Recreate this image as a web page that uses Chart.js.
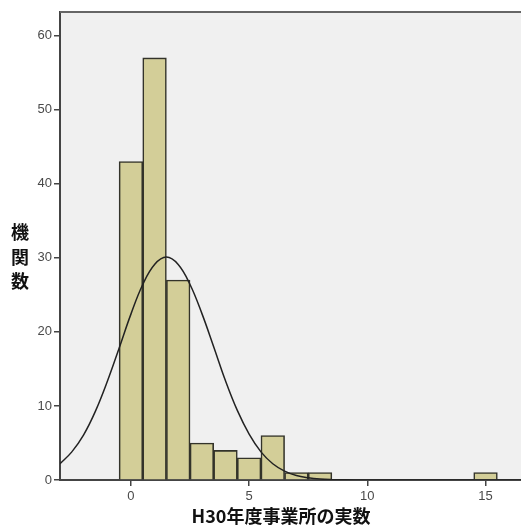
<!DOCTYPE html>
<html><head><meta charset="utf-8">
<script src="https://cdn.jsdelivr.net/npm/chart.js@4.4.1/dist/chart.umd.min.js"></script>
<style>html,body{margin:0;padding:0;background:#fff}#wrap{width:521px;height:528px;position:relative}</style>
</head><body><div id="wrap"><canvas id="c"></canvas></div>
<script>
const binCenters = [0, 1, 2, 3, 4, 5, 6, 7, 8, 15];
const counts = [43, 57, 27, 5, 4, 3, 6, 1, 1, 1];
const curveX = [-3, -2.5, -2, -1.5, -1, -0.5, 0, 0.5, 1, 1.5, 2, 2.5, 3, 3.5, 4, 4.5, 5, 5.5, 6, 6.5, 7, 7.5, 8, 8.5, 9, 10, 12, 14, 16.5];
const curveY = [2.2, 3.8, 6.1, 9.3, 13.3, 17.8, 22.4, 26.4, 29.1, 30.1, 29.1, 26.4, 22.5, 18.0, 13.4, 9.4, 6.2, 3.8, 2.2, 1.2, 0.6, 0.3, 0.13, 0.05, 0.02, 0, 0, 0, 0];
const xTicks = [0, 5, 10, 15];
const yTicks = [0, 10, 20, 30, 40, 50, 60];
const xTitle = "H30年度事業所の実数";
const yTitle = ["機", "関", "数"];

const decor = {
  id: 'decor',
  beforeDraw(chart) {
    const {ctx, chartArea: a} = chart;
    ctx.save();
    ctx.fillStyle = '#f0f0f0';
    ctx.fillRect(a.left, a.top, a.right - a.left, a.bottom - a.top);
    ctx.restore();
  },
  afterDraw(chart) {
    const {ctx, chartArea: a} = chart;
    ctx.save();
    ctx.strokeStyle = '#666';
    ctx.lineWidth = 2;
    ctx.beginPath();
    ctx.moveTo(a.left, a.top);
    ctx.lineTo(a.right, a.top);
    ctx.stroke();
    ctx.fillStyle = '#111';
    ctx.font = 'bold 18px "Noto Sans CJK JP"';
    ctx.textAlign = 'center';
    ctx.textBaseline = 'middle';
    const ys = [232, 257, 281];
    yTitle.forEach((ch, i) => ctx.fillText(ch, 20, ys[i]));
    ctx.fillText(xTitle, 281, 516);
    ctx.restore();
  }
};

new Chart(document.getElementById('c'), {
  type: 'bar',
  data: {
    datasets: [
      {
        type: 'line',
        data: curveX.map((x, i) => ({x, y: curveY[i]})),
        borderColor: '#222',
        borderWidth: 1.5,
        pointRadius: 0,
        tension: 0.4,
        fill: false,
        order: 0
      },
      {
        type: 'bar',
        data: binCenters.map((x, i) => ({x, y: counts[i]})),
        backgroundColor: '#d3ce98',
        borderColor: '#33332a',
        borderWidth: 1.6,
        barPercentage: 1,
        categoryPercentage: 1,
        order: 1
      }
    ]
  },
  options: {
    responsive: true,
    maintainAspectRatio: false,
    animation: false,
    layout: {padding: {top: 12, right: 0, left: 0, bottom: 0}},
    plugins: {legend: {display: false}, tooltip: {enabled: false}},
    scales: {
      x: {
        type: 'linear',
        min: -3,
        max: 16.5,
        offset: false,
        afterBuildTicks(s) { s.ticks = xTicks.map(v => ({value: v})); },
        afterFit(s) { s.height = 48; },
        grid: {display: true, drawOnChartArea: false, drawTicks: true, tickLength: 6, color: '#444', lineWidth: 1.5, offset: false},
        border: {display: true, color: '#444', width: 2},
        ticks: {color: '#4a4a4a', font: {family: 'Liberation Sans', size: 13}, padding: 3, maxRotation: 0, autoSkip: false}
      },
      y: {
        min: 0,
        max: 63.2,
        afterBuildTicks(s) { s.ticks = yTicks.map(v => ({value: v})); },
        afterFit(s) { s.width = 60; },
        grid: {display: true, drawOnChartArea: false, drawTicks: true, tickLength: 6, color: '#444', lineWidth: 1.5},
        border: {display: true, color: '#444', width: 2},
        ticks: {color: '#4a4a4a', font: {family: 'Liberation Sans', size: 13}, padding: 2, autoSkip: false}
      }
    }
  },
  plugins: [decor]
});
</script></body></html>
